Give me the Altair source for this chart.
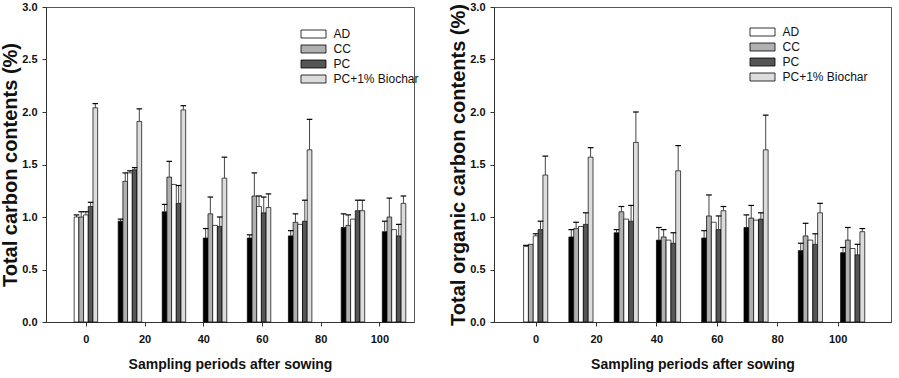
import altair as alt
import pandas as pd

# ---- data ----
days = [0, 15, 30, 44, 59, 73, 91, 105]
series = ["K", "CC", "AD", "PC", "PC+1% Biochar"]

tc_vals = {
    "K":  [1.00, 0.96, 1.05, 0.80, 0.80, 0.82, 0.90, 0.86],
    "CC": [1.00, 1.34, 1.38, 1.03, 1.20, 0.95, 0.92, 1.00],
    "AD": [1.02, 1.42, 1.31, 0.92, 1.10, 0.93, 0.98, 0.88],
    "PC": [1.10, 1.45, 1.13, 0.91, 1.04, 0.96, 1.06, 0.82],
    "PC+1% Biochar": [2.04, 1.91, 2.02, 1.37, 1.09, 1.64, 1.06, 1.13],
}
tc_err = {
    "K":  [0.02, 0.02, 0.07, 0.09, 0.03, 0.05, 0.13, 0.10],
    "CC": [0.05, 0.08, 0.15, 0.16, 0.22, 0.08, 0.10, 0.18],
    "AD": [0.03, 0.02, 0.00, 0.00, 0.10, 0.00, 0.00, 0.00],
    "PC": [0.04, 0.02, 0.17, 0.09, 0.15, 0.20, 0.10, 0.11],
    "PC+1% Biochar": [0.04, 0.12, 0.04, 0.20, 0.13, 0.29, 0.10, 0.07],
}
toc_vals = {
    "K":  [0.72, 0.81, 0.85, 0.78, 0.80, 0.90, 0.68, 0.66],
    "CC": [0.74, 0.89, 1.05, 0.81, 1.01, 0.99, 0.82, 0.78],
    "AD": [0.82, 0.91, 0.98, 0.78, 0.95, 0.97, 0.78, 0.70],
    "PC": [0.88, 0.93, 0.96, 0.75, 0.88, 0.98, 0.74, 0.64],
    "PC+1% Biochar": [1.40, 1.57, 1.71, 1.44, 1.06, 1.64, 1.04, 0.86],
}
toc_err = {
    "K":  [0.01, 0.07, 0.03, 0.12, 0.07, 0.12, 0.07, 0.05],
    "CC": [0.00, 0.06, 0.05, 0.07, 0.20, 0.12, 0.12, 0.12],
    "AD": [0.02, 0.00, 0.00, 0.00, 0.00, 0.00, 0.00, 0.00],
    "PC": [0.08, 0.11, 0.15, 0.10, 0.13, 0.06, 0.10, 0.10],
    "PC+1% Biochar": [0.18, 0.09, 0.29, 0.24, 0.04, 0.33, 0.09, 0.03],
}

legend_names = ["AD", "CC", "PC", "PC+1% Biochar"]
color_domain = ["AD", "CC", "PC", "PC+1% Biochar", "K"]
color_range = ["#ffffff", "#b0b0b0", "#555555", "#dcdcdc", "#000000"]
x_ticks = [0, 20, 40, 60, 80, 100]
y_ticks = [0.0, 0.5, 1.0, 1.5, 2.0, 2.5, 3.0]

FONT = "Liberation Sans"


def make_df(vals, errs):
    rows = []
    for i, s in enumerate(series):
        for j, d in enumerate(days):
            fill = "AD" if (s == "K" and d == 0) else s
            rows.append({"day": d, "idx": i, "series": s, "fill": fill,
                         "value": vals[s][j], "err": errs[s][j]})
    return pd.DataFrame(rows)


def panel(df, xdom, width, ytitle, lx, ly):
    base = alt.Chart(df).transform_calculate(
        x0="datum.day - 4 + datum.idx * 1.6",
        x1="datum.day - 4 + (datum.idx + 1) * 1.6",
        xc="datum.day - 3.2 + datum.idx * 1.6",
        top="datum.value + datum.err",
    ).transform_calculate(
        c0="datum.xc - 0.95",
        c1="datum.xc + 0.95",
    )
    xscale = alt.Scale(domain=xdom, nice=False, zero=False)
    yscale = alt.Scale(domain=[0, 3], nice=False)
    xaxis = alt.Axis(values=x_ticks, title="Sampling periods after sowing",
                     labelFont=FONT, labelFontSize=11, labelFontWeight="bold",
                     titleFont=FONT, titleFontSize=14, titleFontWeight="bold",
                     tickSize=4, labelPadding=7, titlePadding=13, grid=False,
                     domainColor="#333333", tickColor="#333333", labelColor="#111111",
                     titleColor="#111111")
    yaxis = alt.Axis(values=y_ticks, format=".1f", title=ytitle,
                     labelFont=FONT, labelFontSize=11, labelFontWeight="bold",
                     titleFont=FONT, titleFontSize=20, titleFontWeight="bold",
                     tickSize=4, labelPadding=5, titlePadding=1, grid=False,
                     domainColor="#333333", tickColor="#333333", labelColor="#111111",
                     titleColor="#111111")
    bars = base.mark_bar(stroke="black", strokeWidth=0.7).encode(
        x=alt.X("x0:Q", scale=xscale, axis=xaxis),
        x2="x1:Q",
        y=alt.Y("value:Q", scale=yscale, axis=yaxis),
        y2=alt.datum(0),
        color=alt.Color("fill:N",
                        scale=alt.Scale(domain=color_domain, range=color_range),
                        legend=alt.Legend(
                            title=None, orient="none", legendX=lx, legendY=ly,
                            values=legend_names, padding=0,
                            symbolType="M-2.5,-0.8H2.5V0.8H-2.5Z",
                            symbolSize=100, symbolStrokeColor="black",
                            symbolStrokeWidth=0.8, symbolOpacity=1,
                            labelFont=FONT, labelFontSize=12, labelColor="#111111",
                            labelOffset=14, rowPadding=3)),
    )
    stems = base.transform_filter("datum.err > 0").mark_rule(
        color="#444444", strokeWidth=1).encode(
        x="xc:Q", y="value:Q", y2="top:Q")
    caps = base.transform_filter("datum.err > 0").mark_rule(
        color="black", strokeWidth=1.2).encode(
        x="c0:Q", x2="c1:Q", y="top:Q")
    return alt.layer(bars, stems, caps).properties(
        width=width, height=315,
        view=alt.ViewBackground(stroke="#555555", strokeWidth=1))


left = panel(make_df(tc_vals, tc_err), [-13.6, 111.8], 368,
             "Total carbon contents (%)", 261.5, 21)
right = panel(make_df(toc_vals, toc_err), [-13.8, 117.7], 397,
              "Total organic carbon contents (%)", 262.5, 19)

chart = alt.hconcat(left, right, spacing=28).resolve_scale(
    color="independent", x="independent", y="independent"
).resolve_legend(color="independent").properties(
    padding={"left": 0, "top": 0, "right": 0, "bottom": 0}
).configure_view(stroke="#555555", strokeWidth=1).configure(background="white")

chart.save("out.html", embed_options={"renderer": "svg", "actions": False})
